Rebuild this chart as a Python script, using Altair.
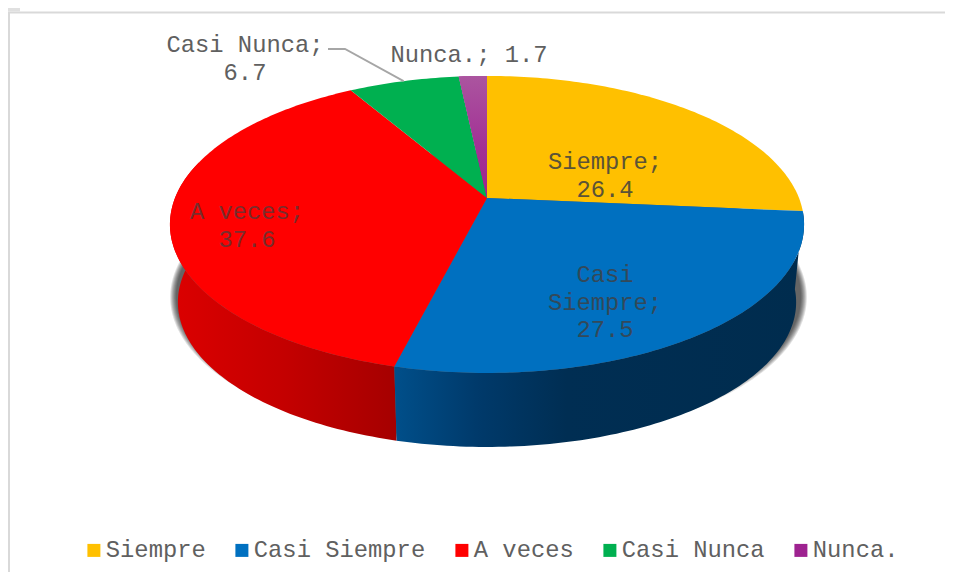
import math
import altair as alt

names = ["Siempre", "Casi Siempre", "A veces", "Casi Nunca", "Nunca."]
values = [26.4, 27.5, 37.6, 6.7, 1.7]
colors = ["#ffc000", "#0070c0", "#ff0000", "#00b050", "#9e2290"]
value_labels = ["26.4", "27.5", "37.6", "6.7", "1.7"]

FONT = "Liberation Mono"
FS = 23.8
K, A, B = 0.178, 312.0, 143.8


def rim(theta_deg, s=1.0, dy=0.0, dx=0.0, sy=None):
    t = math.radians(theta_deg)
    u, v = math.sin(t), math.cos(t)
    w = 1 + K * v
    return [A * s * u / w + dx, B * (s if sy is None else sy) * v / w - dy]


def arc(a0, a1, **kw):
    n = max(2, int(abs(a1 - a0)) + 1)
    return [rim(a0 + (a1 - a0) * i / (n - 1), **kw) for i in range(n)]


def feature(ring, name):
    if ring[0] != ring[-1]:
        ring = ring + [ring[0]]
    return {"type": "Feature", "properties": {"name": name},
            "geometry": {"type": "Polygon", "coordinates": [ring]}}


total = sum(values)
bounds = [0.0]
for val in values:
    bounds.append(bounds[-1] + val / total * 360)


def geo(features, **mark):
    return alt.Chart(alt.Data(values=features)).mark_geoshape(**mark).project(
        type="identity", reflectY=True, scale=1, translate=[479, 190])


def grad(stops, vertical=False):
    return alt.Gradient(gradient="linear", x1=0, x2=0 if vertical else 1, y1=0, y2=1 if vertical else 0,
                        stops=[alt.GradientStop(offset=o, color=c) for o, c in stops])


layers = []

# soft shadow under the body
for i in range(7):
    sx = 1.004 - i * 0.003
    sy = 0.99 - i * 0.005
    ring = arc(0, 360, s=sx, sy=sy, dy=73, dx=1.5)
    layers.append(geo([feature(ring, "shadow")], fill="#000000", opacity=0.12, stroke=None))

# side walls
DROP, SHRINK = 78.4, 0.975
b1, b2 = bounds[1], bounds[2]
blue_wall = arc(b1, b2) + arc(b2, b1, s=SHRINK, dy=DROP)
red_wall = arc(b2, 285) + arc(285, b2, s=SHRINK, dy=DROP)
layers.append(geo([feature(red_wall, "wall")], stroke=None,
                  fill=grad([(0, "#dc0000"), (0.5, "#c40000"), (1, "#a50000")])))
layers.append(geo([feature(blue_wall, "wall")], stroke=None,
                  fill=grad([(0, "#004f8a"), (0.2, "#003a6b"), (0.42, "#002e53"), (1, "#002c4e")])))

# top surface
slices = [feature([[0, 0]] + arc(bounds[i], bounds[i + 1]), names[i]) for i in range(len(names))]
legend = alt.Legend(orient="none", legendX=74, legendY=530.5, direction="horizontal", columns=5,
                    gridAlign="none", columnPadding=24, title=None, symbolType="square",
                    symbolSize=169, symbolStrokeWidth=0, labelFont=FONT, labelFontSize=FS,
                    labelColor="#606060", labelLimit=400, labelOffset=0)
top = geo(slices, stroke=None).encode(
    color=alt.Color("properties.name:N", legend=legend,
                    scale=alt.Scale(domain=names, range=colors)))
layers.append(top)
layers.append(geo([slices[4]], stroke=None,
                  fill=grad([(0, "#ab559f"), (0.6, "#a23095"), (1, "#9e2290")], vertical=True)))

# leader line for Casi Nunca
mid = (bounds[3] + bounds[4]) / 2
leader = {"type": "Feature", "properties": {"name": "leader"},
          "geometry": {"type": "LineString",
                       "coordinates": [[-159, 149], [-142, 149], rim(mid)]}}
layers.append(geo([leader], filled=False, stroke="#a6a6a6", strokeWidth=1.8))


def label(lines, x, y, color, opacity=1.0):
    return alt.Chart(alt.Data(values=[{}])).mark_text(
        font=FONT, fontSize=FS, lineHeight=27.5, align="center", baseline="middle",
        color=color, opacity=opacity,
    ).encode(x=alt.value(x - 8), y=alt.value(y - 8), text=alt.value(lines))


DARK = "#404040"
layers += [
    label([names[0] + ";", value_labels[0]], 605, 162, DARK, 0.85),
    label(["Casi", "Siempre;", value_labels[1]], 605, 275, DARK, 0.8),
    label([names[2] + ";", value_labels[2]], 247, 212, DARK, 0.7),
    label([names[3] + ";", value_labels[3]], 245, 45, "#606060"),
    label(f"{names[4]}; {value_labels[4]}", 469, 55, "#606060"),
]

# chart frame
frame_color = "#d9d9d9"
layers += [
    alt.Chart(alt.Data(values=[{}])).mark_rule(color=frame_color, strokeWidth=2).encode(
        x=alt.value(1), y=alt.value(4), y2=alt.value(572)),
    alt.Chart(alt.Data(values=[{}])).mark_rule(color=frame_color, strokeWidth=2).encode(
        x=alt.value(0), x2=alt.value(937), y=alt.value(4.5)),
    alt.Chart(alt.Data(values=[{}])).mark_rect(color="#e0e0e0").encode(
        x=alt.value(0), x2=alt.value(12), y=alt.value(0), y2=alt.value(3.5)),
]

chart = alt.layer(*layers).properties(
    width=937, height=564, padding=0, background="white",
    autosize=alt.AutoSizeParams(type="none"),
).configure_view(stroke=None)

chart.save("out.html", embed_options={"renderer": "svg", "actions": False})
